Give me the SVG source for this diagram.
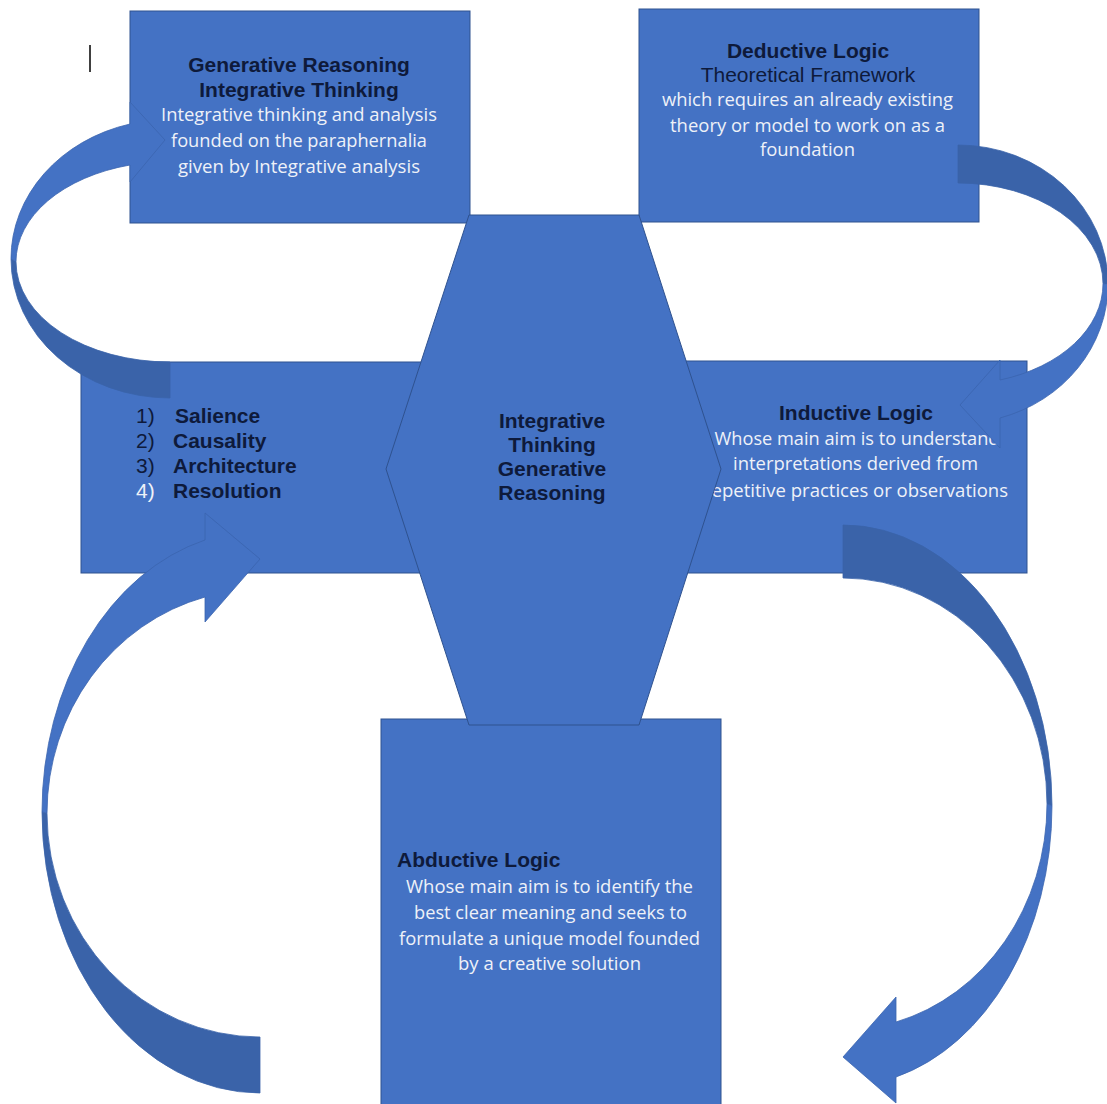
<svg xmlns="http://www.w3.org/2000/svg" width="1107" height="1104" viewBox="0 0 1107 1104">
<style>
.box{fill:#4472c4;stroke:#2f528f;stroke-width:1}
.arr{fill:#4472c4;stroke:#3b64ae;stroke-width:0.8}
.arrd{fill:#3a63a9;stroke:#3a63a9;stroke-width:0.8}
.h{font-family:"Liberation Sans",Arial,sans-serif;font-size:21px;font-weight:bold;fill:#0e1a3b}
.hr{font-family:"Liberation Sans",Arial,sans-serif;font-size:21px;fill:#0e1a3b}
.w{font-family:"Open Sans","Liberation Sans",sans-serif;font-size:18px;fill:#eef1f8}
.c{text-anchor:middle}
</style>
<rect width="1107" height="1104" fill="#ffffff"/>
<line x1="90" y1="45" x2="90" y2="72" stroke="#000" stroke-width="1.5"/>

<g id="node-generative">
<rect class="box" x="130" y="11" width="340" height="212"/>
<text class="h c" x="299" y="72">Generative Reasoning</text>
<text class="h c" x="299" y="97">Integrative Thinking</text>
<text class="w c" x="299" y="121" textLength="276" lengthAdjust="spacingAndGlyphs">Integrative thinking and analysis</text>
<text class="w c" x="299" y="147" textLength="256" lengthAdjust="spacingAndGlyphs">founded on the paraphernalia</text>
<text class="w c" x="299" y="173" textLength="242" lengthAdjust="spacingAndGlyphs">given by Integrative analysis</text>
</g>

<g id="node-deductive">
<rect class="box" x="639" y="9" width="340" height="213"/>
<text class="h c" x="808" y="58">Deductive Logic</text>
<text class="hr c" x="808" y="82">Theoretical Framework</text>
<text class="w c" x="807.5" y="106" textLength="291" lengthAdjust="spacingAndGlyphs">which requires an already existing</text>
<text class="w c" x="807.5" y="132" textLength="275" lengthAdjust="spacingAndGlyphs">theory or model to work on as a</text>
<text class="w c" x="807.5" y="156" textLength="95" lengthAdjust="spacingAndGlyphs">foundation</text>
</g>

<g id="node-list">
<rect class="box" x="81" y="362" width="360" height="211"/>
<text class="hr" x="136" y="423">1)</text>
<text class="h" x="175" y="423">Salience</text>
<text class="hr" x="136" y="448">2)</text>
<text class="h" x="173" y="448">Causality</text>
<text class="hr" x="136" y="473">3)</text>
<text class="h" x="173" y="473">Architecture</text>
<text class="hr" x="136" y="498" style="fill:#eef1f8">4)</text>
<text class="h" x="173" y="498">Resolution</text>
</g>

<g id="node-inductive">
<rect class="box" x="680" y="361" width="347" height="212"/>
<text class="h c" x="856" y="420">Inductive Logic</text>
<text class="w c" x="857" y="445" textLength="285" lengthAdjust="spacingAndGlyphs">Whose main aim is to understand</text>
<text class="w c" x="855.5" y="470" textLength="245" lengthAdjust="spacingAndGlyphs">interpretations derived from</text>
<text class="w c" x="856" y="497" textLength="304" lengthAdjust="spacingAndGlyphs">repetitive practices or observations</text>
</g>

<g id="node-abductive">
<rect class="box" x="381" y="719" width="340" height="400"/>
<text class="h" x="397" y="867">Abductive Logic</text>
<text class="w c" x="549.5" y="893" textLength="287" lengthAdjust="spacingAndGlyphs">Whose main aim is to identify the</text>
<text class="w c" x="550.5" y="919" textLength="273" lengthAdjust="spacingAndGlyphs">best clear meaning and seeks to</text>
<text class="w c" x="549.5" y="945" textLength="301" lengthAdjust="spacingAndGlyphs">formulate a unique model founded</text>
<text class="w c" x="549.5" y="970" textLength="183" lengthAdjust="spacingAndGlyphs">by a creative solution</text>
</g>

<g id="node-center">
<polygon class="box" points="469,215 639,215 721,469 639,725 469,725 386,469"/>
<text class="h c" x="552" y="428">Integrative</text>
<text class="h c" x="552" y="452">Thinking</text>
<text class="h c" x="552" y="476">Generative</text>
<text class="h c" x="552" y="500">Reasoning</text>
</g>

<g id="connectors">
<!-- arrow 1: left box to top-left box -->
<path class="arrd" d="M11,258.8 A159,139.2 0 0 0 170,398 L170,362 A154,100.2 0 0 1 16,261.8 Z"/>
<path class="arr" d="M11,258.8 A159,139.2 0 0 1 130,124 L130,102 L165,140 L130,182 L130,165 A154,100.2 0 0 0 16,261.8 Z"/>
<!-- arrow 2: top-right box to right box -->
<path class="arrd" d="M958,145 A150,139.3 0 0 1 1108,284.3 L1103,283.7 A145,100.7 0 0 0 958,183 Z"/>
<path class="arr" d="M1108,284.3 A150,139.3 0 0 1 1000,418 L1000,448 L960,405 L1000,360 L1000,380 A145,100.7 0 0 0 1103,283.7 Z"/>
<!-- arrow 3: right box to bottom -->
<path class="arrd" d="M843,525 A209,280.6 0 0 1 1052,805.6 L1047,803.9 A204,225.9 0 0 0 843,578 Z"/>
<path class="arr" d="M1052,805.6 A209,280.6 0 0 1 896,1077 L896,1103 L843,1057 L896,997 L896,1022 A204,225.9 0 0 0 1047,803.9 Z"/>
<!-- arrow 4: bottom to left box -->
<path class="arrd" d="M42,812 A218,281 0 0 0 260,1093 L260,1037 A213,223.8 0 0 1 47,813.2 Z"/>
<path class="arr" d="M42,812 A218,281 0 0 1 205,540 L205,513 L260,559 L205,622 L205,597 A213,223.8 0 0 0 47,813.2 Z"/>
</g>
</svg>
